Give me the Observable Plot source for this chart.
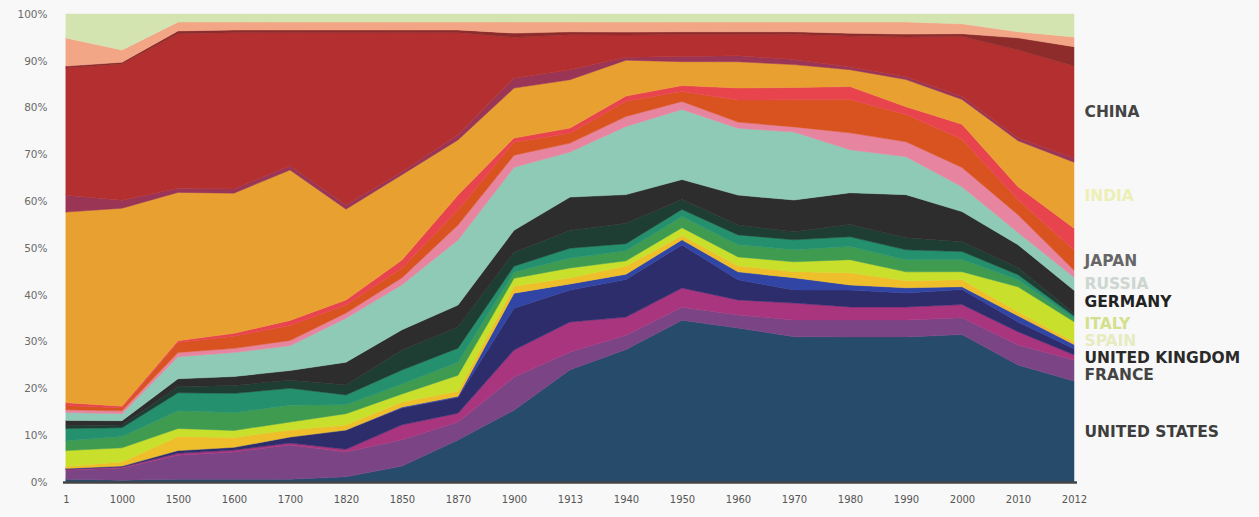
<!DOCTYPE html>
<html>
<head>
<meta charset="utf-8">
<script src="https://cdn.jsdelivr.net/npm/d3@7"></script>
<script src="https://cdn.jsdelivr.net/npm/@observablehq/plot@0.6"></script>
<style>
  html, body { margin: 0; padding: 0; background: #f8f8f8; }
  #chart { width: 1259px; height: 517px; }
</style>
</head>
<body>
<div id="chart"></div>
<script>
// Years (categorical, equally spaced)
const years = ["1","1000","1500","1600","1700","1820","1850","1870","1900","1913","1940","1950","1960","1970","1980","1990","2000","2010","2012"];

// Share (%) of each series, bottom layer first
const unitedStates  = [0.6,0.4,0.6,0.6,0.6,1.1,3.4,9.0,15.4,23.9,27.8,34.6,32.9,31.0,31.0,31.0,31.4,25.0,21.6];
const france        = [1.9,2.6,5.1,5.8,7.3,5.3,5.6,3.8,7.1,3.8,3.0,2.8,2.8,3.6,3.6,3.6,3.6,4.3,4.5];
const canada        = [0.2,0.2,0.4,0.4,0.4,0.6,3.2,1.9,5.8,6.4,3.8,4.1,3.2,3.6,2.8,2.8,2.8,2.8,1.1];
const unitedKingdom = [0.2,0.2,0.6,0.6,1.3,4.1,3.6,3.4,9.0,6.8,7.9,9.2,4.3,2.8,3.6,3.0,3.2,2.1,1.3];
const australia     = [0,0,0,0,0,0,0.2,0.2,3.2,1.3,1.1,1.1,1.7,2.6,1.1,1.1,0.6,1.3,0.9];
const spain         = [0.4,0.9,3.0,2.1,1.5,1.1,1.1,1.1,1.5,1.3,1.7,0.9,1.3,1.3,2.6,1.5,1.5,0.9,0.6];
const italy         = [3.4,3.0,1.7,1.5,1.7,2.4,1.7,3.4,1.7,2.1,1.1,1.7,1.9,2.1,2.8,1.9,1.7,5.3,4.3];
const netherlands   = [2.1,2.4,3.8,3.8,3.6,1.9,2.1,2.8,1.3,2.1,2.1,2.4,2.6,2.6,2.8,2.6,2.6,1.5,0.6];
const belgium       = [2.6,1.9,3.8,4.1,3.6,2.1,3.0,3.0,1.3,2.1,1.5,1.5,2.1,2.1,2.1,2.1,1.7,1.1,0.6];
const austria       = [0.6,0.6,1.3,1.7,1.7,2.1,4.3,4.5,3.0,3.8,4.3,2.1,2.1,1.7,2.6,2.6,2.1,1.5,0.6];
const germany       = [1.1,0.9,1.7,1.9,2.1,4.9,4.3,4.7,4.7,7.1,6.0,4.3,6.4,6.8,6.8,9.2,6.4,4.9,4.9];
const russia        = [1.7,1.5,4.7,5.1,5.3,9.4,9.6,13.9,13.5,9.6,14.3,15.0,14.3,14.5,9.2,8.1,5.3,2.6,2.8];
const brazil        = [0.6,0.6,0.9,0.9,1.1,1.1,1.5,3.2,2.6,1.9,2.1,1.7,1.3,1.1,3.6,3.2,4.1,3.8,1.5];
const japan         = [0.9,0.6,2.1,2.6,3.2,1.7,2.1,3.2,2.8,2.1,3.2,2.1,4.7,5.8,7.1,5.8,6.0,3.2,4.3];
const korea         = [0.6,0.4,0.4,0.6,1.1,1.1,1.7,3.2,0.9,1.1,1.1,1.3,2.6,2.6,2.8,1.7,3.2,2.8,4.7];
const india         = [40.6,42.3,31.6,29.9,32.1,19.4,18.2,11.8,10.7,10.3,7.5,5.1,5.6,4.9,3.6,5.8,5.3,9.8,14.1];
const indonesia     = [3.6,1.7,0.9,0.9,0.9,0.9,0.6,1.1,2.1,2.1,0.6,1.1,1.3,1.1,0.6,0.6,0.6,0.6,0.9];
const china         = [27.1,29.1,32.9,33.3,28.4,36.8,29.7,21.8,8.8,7.5,4.7,4.7,4.5,5.3,6.6,8.5,12.8,18.8,19.7];
const otherAsia     = [0.4,0.4,0.6,0.6,0.6,0.6,0.6,0.6,0.9,0.6,0.6,0.6,0.6,0.6,0.6,0.6,0.6,2.6,4.1];
const latinAmerica  = [6.0,2.6,1.9,1.7,1.7,1.7,1.7,1.7,2.4,2.1,2.1,2.1,2.1,2.1,2.4,2.6,2.1,1.3,2.1];
const restOfWorld   = [5.1,7.7,1.7,1.7,1.7,1.7,1.7,1.7,1.7,1.7,1.7,1.7,1.7,1.7,1.7,1.7,2.1,3.8,4.9];

const seriesNames = ["United States","France","Canada","United Kingdom","Australia","Spain","Italy",
  "Netherlands","Belgium","Austria","Germany","Russia","Brazil","Japan","Korea","India","Indonesia",
  "China","Other Asia","Latin America","Rest of world"];
const seriesValues = [unitedStates,france,canada,unitedKingdom,australia,spain,italy,netherlands,belgium,
  austria,germany,russia,brazil,japan,korea,india,indonesia,china,otherAsia,latinAmerica,restOfWorld];

// Right-hand labels (series name -> label text)
const labelNames = ["United States","France","United Kingdom","Spain","Italy","Germany","Russia","Japan","India","China"];
const labelTexts = ["UNITED STATES","FRANCE","UNITED KINGDOM","SPAIN","ITALY","GERMANY","RUSSIA","JAPAN","INDIA","CHINA"];

// Styles
const fills = ["#264b6b","#7b4585","#a8357e","#2e2d6c","#3145a5","#efbe2b","#c8df2c","#3e9b50","#25906e",
  "#1e3e33","#2d2d2d","#8fcab6","#e7849f","#d8531f","#e8444e","#e8a131","#9a3555","#b42f2f","#8e2b2b",
  "#f2a686","#d4e4b1"];
const labelColors = {"United States":"#3d3d3d","France":"#444","United Kingdom":"#2a2a2a","Spain":"#e6ebc0",
  "Italy":"#d3e08c","Germany":"#222","Russia":"#cdd6d0","Japan":"#666","India":"#ecf0b6","China":"#444"};

const W = 1259, H = 517, mL = 63, mR = 182, mT = 14, mB = 35;
const plotH = H - mT - mB;

// Long table for the stacked area
const table = [];
seriesNames.forEach((name, s) => {
  years.forEach((yr, i) => table.push({year: yr, country: name, value: seriesValues[s][i]}));
});

// Label positions: midpoints of the last column's bands, spread apart to avoid overlap
const last = years.length - 1;
const total = d3.sum(seriesValues, v => v[last]);
let acc = 0;
const mids = {};
seriesNames.forEach((name, s) => {
  const v = seriesValues[s][last] / total;
  mids[name] = acc + v / 2;
  acc += v;
});
const items = labelNames.map((n, k) => ({name: n, text: labelTexts[k], want: (1 - mids[n]) * plotH}))
  .sort((a, b) => a.want - b.want);
(function spread(list, gap) {
  let cl = list.map(d => ({m: [d]}));
  const place = c => {
    const mean = d3.mean(c.m, d => d.want), n = c.m.length;
    c.m.forEach((d, k) => d.pos = mean + (k - (n - 1) / 2) * gap);
  };
  cl.forEach(place);
  let merged = true;
  while (merged) {
    merged = false;
    for (let i = 0; i < cl.length - 1; i++) {
      const a = cl[i], b = cl[i + 1];
      if (a.m[a.m.length - 1].pos + gap > b.m[0].pos) {
        a.m = a.m.concat(b.m); cl.splice(i + 1, 1); place(a); merged = true; break;
      }
    }
  }
})(items, 17);
items.forEach(d => d.y = 1 - d.pos / plotH);

const labelMarks = items.map(d => Plot.text([d], {
  x: () => years[last], y: "y", text: "text", dx: 10, textAnchor: "start",
  fill: labelColors[d.name], fontWeight: "bold", fontSize: 15.5,
  fontFamily: "DejaVu Sans, sans-serif"
}));

const chart = Plot.plot({
  width: W, height: H,
  marginLeft: mL, marginRight: mR, marginTop: mT, marginBottom: mB,
  style: {background: "#f8f8f8", fontFamily: "DejaVu Sans, sans-serif", overflow: "visible"},
  x: {type: "point", domain: years, padding: 0, label: null},
  y: {domain: [0, 1], label: null},
  color: {domain: seriesNames, range: fills},
  marks: [
    Plot.areaY(table, {x: "year", y: "value", z: "country", fill: "country", stroke: "country",
      strokeWidth: 0.5, order: seriesNames, offset: "normalize"}),
    Plot.ruleY([0], {stroke: "#454545", strokeWidth: 2.5}),
    Plot.axisY({ticks: d3.range(0, 1.0001, 0.1), tickFormat: d3.format(".0%"), tickSize: 0,
      tickPadding: 16, fontSize: 10.5, color: "#6a6a6a", label: null}),
    Plot.axisX({tickSize: 0, tickPadding: 13, fontSize: 10, color: "#555", label: null}),
    ...labelMarks
  ]
});
document.getElementById("chart").appendChild(chart);
</script>
</body>
</html>
